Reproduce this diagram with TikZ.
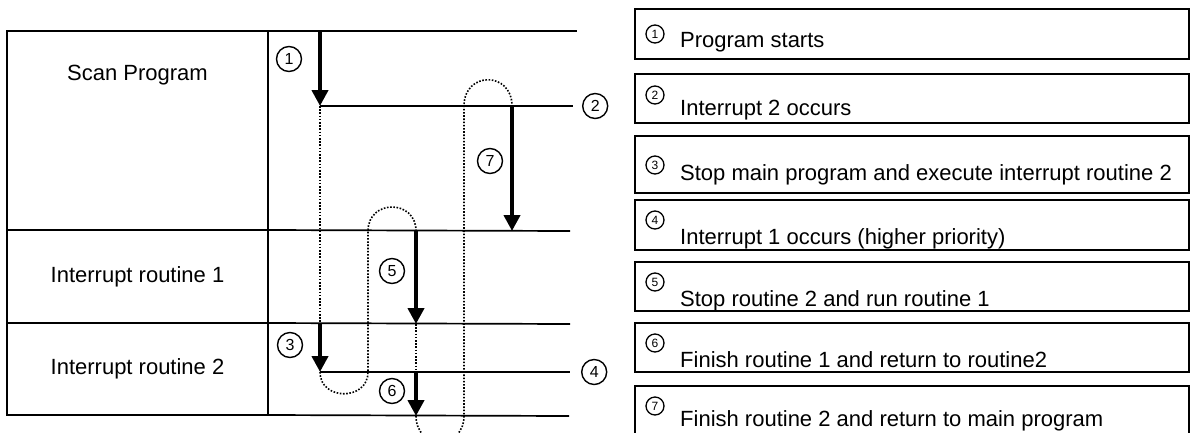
\documentclass[tikz,border=0pt]{standalone}
\usepackage{fontspec}
\setmainfont{Liberation Sans}
\usepackage{tikz}
\usetikzlibrary{calc,positioning,arrows.meta}

\begin{document}
\begin{tikzpicture}[
        x=1pt, y=-1pt,
        font=\fontsize{22}{26}\selectfont,
        prog/.style={draw, line width=2.8pt, minimum width=261pt, inner sep=0pt, outer sep=0pt, anchor=north west},
        level/.style={line width=1.7pt},
        flow/.style={line width=4pt, -{Triangle[width=16pt,length=16pt]}},
        jump/.style={line width=1.6pt, dash pattern=on 1.6pt off 1.6pt},
        num/.style={circle, draw, line width=1.4pt, minimum size=25pt, inner sep=0pt, font=\fontsize{16}{16}\selectfont},
        note/.style={draw, line width=1.6pt, minimum width=554pt, inner sep=0pt, outer sep=0pt, anchor=north west},
        snum/.style={circle, draw, line width=1.3pt, minimum size=18pt, inner sep=0pt, font=\fontsize{12}{12}\selectfont},
        txt/.style={anchor=base west, inner sep=0pt}
    ]
        \useasboundingbox (0,0) rectangle (1194,432);
        \clip (0,0) rectangle (1194,432);

        % program blocks
        \node[prog, minimum height=199pt] (scan) at (7,31) {};
        \node (scantxt) at ($(scan.north)+(0,44)$) {Scan Program};
        \node[prog, minimum height=93pt] (irq1) at (scan.south west) {};
        \node (irq1txt) at (irq1.center) {Interrupt routine 1};
        \node[prog, minimum height=92pt] (irq2) at (irq1.south west) {};
        \node (irq2txt) at (irq2.center) {Interrupt routine 2};

        % points on the time lines
        \coordinate (a0) at (320,31);
        \coordinate (a1) at (320,106);
        \coordinate (a3) at (320,324);
        \coordinate (a4) at (320,372);
        \coordinate (b2) at (368,231);
        \coordinate (b4) at (368,372);
        \coordinate (c2) at (416,231);
        \coordinate (c3) at (416,324);
        \coordinate (c4) at (416,372);
        \coordinate (c5) at (416,416);
        \coordinate (d1) at (464,106);
        \coordinate (d5) at (464,416);
        \coordinate (e1) at (512,106);
        \coordinate (e2) at (512,231);
        \coordinate (end0) at (577,31);
        \coordinate (end1) at (573,106);
        \coordinate (end2) at (570,231);
        \coordinate (end3) at (570,324);
        \coordinate (end4) at (570,372);
        \coordinate (end5) at (569,416);

        % time lines
        \draw[level] (scan.north east) -- (end0);
        \draw[level] (a1) -- (end1);
        \draw[level] (scan.south east) -- (end2);
        \draw[level] (irq1.south east) -- (end3);
        \draw[level] (a4) -- (end4);
        \draw[level] (irq2.south east) -- (end5);

        % return paths
        \draw[jump] (a1) -- (a3);
        \draw[jump] (a4) .. controls +(0,29) and +(0,29) .. (b4) -- (b2)
            .. controls +(0,-32) and +(0,-32) .. (c2);
        \draw[jump] (c3) -- (c4);
        \draw[jump] (c5) .. controls +(0,34) and +(0,34) .. (d5) -- (d1)
            .. controls +(0,-35) and +(0,-35) .. (e1);

        % execution
        \draw[flow] (a0) -- (a1);
        \draw[flow] (e1) -- (e2);
        \draw[flow] (c2) -- (c3);
        \draw[flow] (a3) -- (a4);
        \draw[flow] (c4) -- (c5);

        \node[num] (k1) at (289,59) {1};
        \node[num, right=9pt of end1] (k2) {2};
        \node[num] (k3) at (290,345) {3};
        \node[num, right=11pt of end4] (k4) {4};
        \node[num] (k5) at (392,271) {5};
        \node[num] (k6) at (392,391) {6};
        \node[num] (k7) at (490,161) {7};

        % legend
        \node[note, minimum height=50pt] (s1) at (635,9) {};
        \node[note, minimum height=49pt] (s2) at (635,74) {};
        \node[note, minimum height=57pt] (s3) at (635,136) {};
        \node[note, minimum height=50pt] (s4) at (635,200) {};
        \node[note, minimum height=49pt] (s5) at (635,262) {};
        \node[note, minimum height=49pt] (s6) at (635,323) {};
        \node[note, minimum height=50pt] (s7) at (635,386) {};

        \node[snum] (n1) at ($(s1.north west)+(20,25)$) {1};
        \node[txt] (t1) at ($(s1.north west)+(45,38)$) {Program starts};
        \node[snum] (n2) at ($(s2.north west)+(20,21)$) {2};
        \node[txt] (t2) at ($(s2.north west)+(45,41)$) {Interrupt 2 occurs};
        \node[snum] (n3) at ($(s3.north west)+(20,29)$) {3};
        \node[txt] (t3) at ($(s3.north west)+(45,44)$) {Stop main program and execute interrupt routine 2};
        \node[snum] (n4) at ($(s4.north west)+(20,20)$) {4};
        \node[txt] (t4) at ($(s4.north west)+(45,44)$) {Interrupt 1 occurs (higher priority)};
        \node[snum] (n5) at ($(s5.north west)+(20,20)$) {5};
        \node[txt] (t5) at ($(s5.north west)+(45,44)$) {Stop routine 2 and run routine 1};
        \node[snum] (n6) at ($(s6.north west)+(20,20)$) {6};
        \node[txt] (t6) at ($(s6.north west)+(45,44)$) {Finish routine 1 and return to routine2};
        \node[snum] (n7) at ($(s7.north west)+(20,20)$) {7};
        \node[txt] (t7) at ($(s7.north west)+(45,40)$) {Finish routine 2 and return to main program};
\end{tikzpicture}
\end{document}
